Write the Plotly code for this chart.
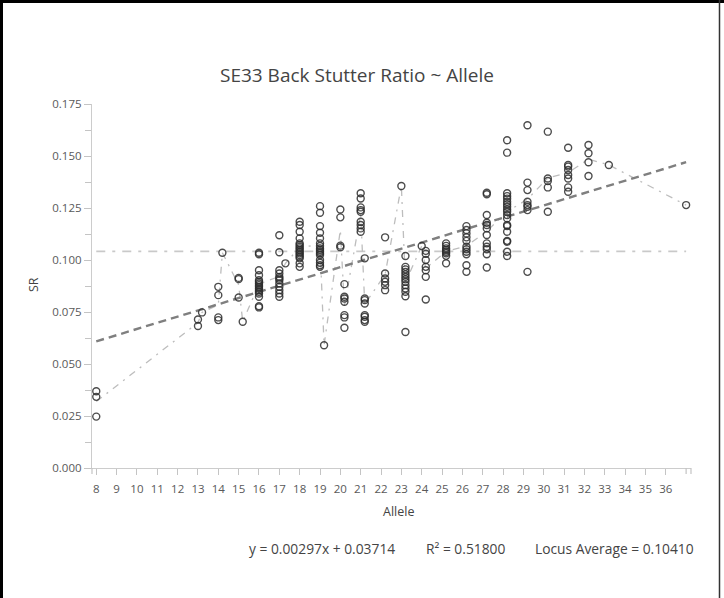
import numpy as np
import plotly.graph_objects as go

# Back stutter ratios observed for each SE33 allele
alleles = [8, 13, 13.2, 14, 14.2, 15, 15.2, 16, 17, 17.3, 18, 19, 19.2, 20, 20.2,
           21, 21.2, 22.2, 23, 23.2, 24, 24.2, 25.2, 26.2, 27.2, 28.2, 29.2,
           30.2, 31.2, 32.2, 33.2, 37]

sr_by_allele = [
    [0.0369, 0.0342, 0.0247],
    [0.0714, 0.0683],
    [0.0748],
    [0.0871, 0.0831, 0.0724, 0.0711],
    [0.1035],
    [0.0914, 0.0908, 0.0820],
    [0.0703],
    [0.1035, 0.1028, 0.0951, 0.0927, 0.0903, 0.0895, 0.0887, 0.0879, 0.0871,
     0.0863, 0.0855, 0.0847, 0.0839, 0.0823, 0.0778, 0.0772],
    [0.1119, 0.1037, 0.0951, 0.0935, 0.0919, 0.0911, 0.0903, 0.0887, 0.0871,
     0.0855, 0.0839, 0.0823],
    [0.0984],
    [0.1184, 0.1168, 0.1136, 0.1104, 0.1080, 0.1072, 0.1064, 0.1056, 0.1048,
     0.1040, 0.1032, 0.1024, 0.1016, 0.1008, 0.0984, 0.0967],
    [0.1259, 0.1227, 0.1163, 0.1131, 0.1104, 0.1080, 0.1067, 0.1056, 0.1048,
     0.1040, 0.1032, 0.1024, 0.1000, 0.0987, 0.0975, 0.0967],
    [0.0590],
    [0.1243, 0.1205, 0.1069, 0.1061],
    [0.0884, 0.0823, 0.0815, 0.0799, 0.0735, 0.0724, 0.0674],
    [0.1321, 0.1296, 0.1253, 0.1240, 0.1232, 0.1184, 0.1168, 0.1152, 0.1136],
    [0.1008, 0.0815, 0.0807, 0.0791, 0.0735, 0.0727, 0.0711, 0.0703],
    [0.1109, 0.0935, 0.0911, 0.0895, 0.0879, 0.0855],
    [0.1356],
    [0.1019, 0.0967, 0.0955, 0.0943, 0.0931, 0.0919, 0.0907, 0.0895, 0.0879,
     0.0863, 0.0847, 0.0826, 0.0654],
    [0.1067],
    [0.1044, 0.1030, 0.1000, 0.0967, 0.0951, 0.0919, 0.0810],
    [0.1080, 0.1068, 0.1056, 0.1048, 0.1040, 0.1032, 0.1020, 0.0984],
    [0.1163, 0.1144, 0.1128, 0.1109, 0.1092, 0.1064, 0.1052, 0.1040, 0.1028,
     0.0975, 0.0943],
    [0.1323, 0.1316, 0.1216, 0.1179, 0.1168, 0.1152, 0.1120, 0.1080, 0.1064,
     0.1052, 0.1028, 0.0964],
    [0.1576, 0.1516, 0.1321, 0.1307, 0.1295, 0.1280, 0.1268, 0.1256, 0.1243,
     0.1232, 0.1216, 0.1200, 0.1168, 0.1163, 0.1136, 0.1092, 0.1088, 0.1040,
     0.1019],
    [0.1648, 0.1372, 0.1336, 0.1280, 0.1264, 0.1256, 0.1240, 0.0943],
    [0.1617, 0.1392, 0.1380, 0.1349, 0.1232],
    [0.1540, 0.1457, 0.1449, 0.1433, 0.1409, 0.1392, 0.1349, 0.1328],
    [0.1553, 0.1513, 0.1470, 0.1404],
    [0.1457],
    [0.1264],
]

# Summary statistics reported under the chart
slope = 0.00297
intercept = 0.03714
r_squared = 0.51800
locus_average = 0.10410

x_tick_values = list(range(8, 37))
x_tick_labels = [str(v) for v in x_tick_values]
x_extra_ticks = [37]

# Flatten observations
xs = [a for a, vals in zip(alleles, sr_by_allele) for _ in vals]
ys = [v for vals in sr_by_allele for v in vals]
means = [float(np.mean(vals)) for vals in sr_by_allele]
x_lo, x_hi = min(alleles), max(alleles)
x_range = [7.79, 37.24]

FONT = "Open Sans, Noto Sans, sans-serif"
TEXT = "#444444"
TICK = "#c4c4c4"

fig = go.Figure()

# Locus average (horizontal dash-dot)
fig.add_trace(go.Scatter(
    x=[x_lo, x_hi], y=[locus_average, locus_average], mode="lines",
    line=dict(color="#c9c9c9", width=1.8, dash="9px,7px,3px,7px"),
    hoverinfo="skip", showlegend=False))

# Mean SR per allele (dash-dot polyline)
fig.add_trace(go.Scatter(
    x=alleles, y=means, mode="lines",
    line=dict(color="#bdbdbd", width=1.3, dash="7px,6px,2px,6px"),
    hoverinfo="skip", showlegend=False))

# Linear regression line
fig.add_trace(go.Scatter(
    x=[x_lo, x_hi], y=[slope * x_lo + intercept, slope * x_hi + intercept],
    mode="lines",
    line=dict(color="#7f7f7f", width=2.4, dash="8px,5px"),
    hoverinfo="skip", showlegend=False))

# Observations
fig.add_trace(go.Scatter(
    x=xs, y=ys, mode="markers",
    marker=dict(symbol="circle-open", size=7,
                color="rgba(45,45,45,0.85)", line=dict(width=1.4)),
    showlegend=False))

# Plot area in pixels: x 92..691, y 104..468
L, R, T, B = 92, 691, 104, 468
W, H = R - L, B - T


def px(x):
    return (x - L) / W


def py(y):
    return (B - y) / H


axis_common = dict(showgrid=False, zeroline=False, showline=True,
                   linecolor="#cccccc", linewidth=1.3, ticks="outside",
                   tickcolor=TICK, tickwidth=1.2,
                   tickfont=dict(family=FONT, size=11.5, color="#595959"))

fig.update_layout(
    width=724, height=598,
    margin=dict(l=L, r=724 - R, t=T, b=598 - B),
    paper_bgcolor="white", plot_bgcolor="white",
    font=dict(family=FONT, color=TEXT),
    title=dict(text="SE33 Back Stutter Ratio ~ Allele",
               font=dict(family=FONT, size=19, color=TEXT),
               xref="container", yref="container",
               x=357 / 724, y=1 - 75 / 598, xanchor="center", yanchor="middle"),
    xaxis=dict(range=x_range, tickmode="array", tickvals=x_tick_values,
               ticktext=x_tick_labels, ticklen=6, ticklabelstandoff=4,
               **axis_common),
    yaxis=dict(range=[0, 0.175], tickmode="linear", tick0=0, dtick=0.025,
               tickformat=".3f", ticklen=7,
               minor=dict(dtick=0.0125, ticks="outside", ticklen=6,
                          tickcolor=TICK, tickwidth=1.2),
               **axis_common),
    showlegend=False,
)

annotations = [
    dict(text="SR", x=px(33), y=py(285), textangle=-90, size=12.5),
    dict(text="Allele", x=px(398), y=py(511), size=12.5),
    dict(text=f"y = {slope:.5f}x + {intercept:.5f}", x=px(247), y=py(548),
         xanchor="left", size=13.8),
    dict(text=f"R² = {r_squared:.5f}", x=px(424), y=py(548),
         xanchor="left", size=13.8),
    dict(text=f"Locus Average = {locus_average:.5f}", x=px(533), y=py(548),
         xanchor="left", size=13.8),
]
for a in annotations:
    size = a.pop("size")
    a.setdefault("xanchor", "center")
    fig.add_annotation(xref="paper", yref="paper", showarrow=False,
                       yanchor="middle",
                       font=dict(family=FONT, size=size, color=TEXT), **a)

# Unlabelled tick at the last allele and the axis end caps below the x axis
for xv in x_extra_ticks:
    fig.add_shape(type="line", xref="x", yref="paper", x0=xv, x1=xv,
                  y0=0, y1=-6 / H, line=dict(color=TICK, width=1.2))
for xp in (0, 1):
    fig.add_shape(type="line", xref="paper", yref="paper", x0=xp, x1=xp,
                  y0=0, y1=-6 / H, line=dict(color=TICK, width=1.2))

# Chart frame
frame = [
    (px(1.5), py(0), px(1.5), py(598), 3, "black"),
    (px(0), py(1.5), px(724), py(1.5), 3, "black"),
    (px(719.5), py(0), px(719.5), py(598), 1.5, "#333333"),
]
for x0, y0, x1, y1, w, c in frame:
    fig.add_shape(type="line", xref="paper", yref="paper",
                  x0=x0, y0=y0, x1=x1, y1=y1, line=dict(color=c, width=w))

fig.write_html("out.html")
